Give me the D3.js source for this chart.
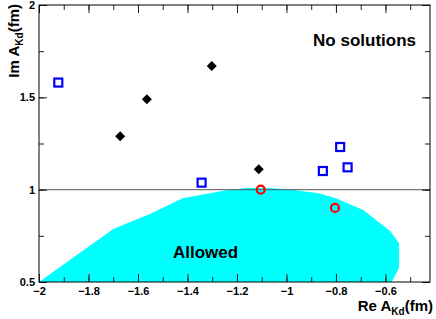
<!DOCTYPE html>
<html>
<head>
<meta charset="utf-8">
<script src="https://cdn.jsdelivr.net/npm/d3@7"></script>
<style>
    body { margin: 0; background: #fff; }
    svg text { font-family: 'Liberation Sans', Arial, sans-serif; font-weight: bold; fill: #000; }
</style>
</head>
<body>
<div id="chart"></div>
<script>
/* global d3 */
// allowed region boundary (Re, Im)
const allowedRe = [-2, -1.7, -1.55, -1.42, -1.25, -1.15, -1.05, -0.97, -0.87, -0.80, -0.69, -0.58, -0.545, -0.545, -0.575];
const allowedIm = [0.5, 0.787, 0.87, 0.953, 0.995, 1.011, 1.008, 0.998, 0.98, 0.953, 0.89, 0.775, 0.71, 0.576, 0.5];

// open blue squares
const squareRe = [-1.922, -1.343, -0.853, -0.783, -0.753];
const squareIm = [1.58, 1.038, 1.101, 1.231, 1.121];

// black diamonds
const diamondRe = [-1.672, -1.564, -1.302, -1.112];
const diamondIm = [1.289, 1.489, 1.67, 1.11];

// open red circles
const circleRe = [-1.104, -0.804];
const circleIm = [1.0, 0.901];

const xTicks = [-2, -1.8, -1.6, -1.4, -1.2, -1, -0.8, -0.6];
const yTicks = [0.5, 1, 1.5, 2];

const W = 436, H = 319;
const frame = { left: 39, right: 430, top: 5, bottom: 282 };

const x = d3.scaleLinear().domain([-2, -0.42]).range([frame.left, frame.right]);
const y = d3.scaleLinear().domain([0.5, 2]).range([frame.bottom, frame.top]);

const svg = d3.select('#chart').append('svg')
    .attr('width', W)
    .attr('height', H);

// allowed region
svg.append('path')
    .datum(d3.zip(allowedRe, allowedIm))
    .attr('d', d3.line().x(d => x(d[0])).y(d => y(d[1])))
    .style('fill', '#00ffff')
    .style('stroke', 'none');

// Im = 1 line
svg.append('line')
    .attr('x1', frame.left).attr('x2', frame.right)
    .attr('y1', y(1)).attr('y2', y(1))
    .style('stroke', '#555')
    .style('stroke-opacity', 0.8)
    .style('stroke-width', 1.2);

// axes, ticks inward on all four sides
const minorX = d3.range(-2, -0.42, 0.1);
const minorY = d3.range(0.5, 2.01, 0.25);

const axB = d3.axisBottom(x).tickValues(xTicks).tickSizeInner(-8).tickSizeOuter(0).tickPadding(5).tickFormat(d3.format('~g'));
const axT = d3.axisTop(x).tickValues(xTicks).tickSizeInner(-8).tickSizeOuter(0).tickFormat('');
const axL = d3.axisLeft(y).tickValues(yTicks).tickSizeInner(-8).tickSizeOuter(0).tickPadding(4).tickFormat(d3.format('~g'));
const axR = d3.axisRight(y).tickValues(yTicks).tickSizeInner(-8).tickSizeOuter(0).tickFormat('');

const mB = d3.axisBottom(x).tickValues(minorX).tickSize(-5).tickFormat('');
const mT = d3.axisTop(x).tickValues(minorX).tickSize(-5).tickFormat('');
const mL = d3.axisLeft(y).tickValues(minorY).tickSize(-5).tickFormat('');
const mR = d3.axisRight(y).tickValues(minorY).tickSize(-5).tickFormat('');

const axes = svg.append('g').attr('class', 'axes');
[[mB, frame.bottom, 'y'], [mT, frame.top, 'y'], [axB, frame.bottom, 'y'], [axT, frame.top, 'y'],
 [mL, frame.left, 'x'], [mR, frame.right, 'x'], [axL, frame.left, 'x'], [axR, frame.right, 'x']]
    .forEach(([ax, pos, dir]) => {
        const g = axes.append('g')
            .attr('transform', dir === 'y' ? `translate(0, ${pos})` : `translate(${pos}, 0)`)
            .call(ax);
        g.select('.domain').remove();
        g.selectAll('line').style('stroke', '#222').style('stroke-width', 1);
        g.selectAll('text').style('font-size', '11px');
    });

axes.selectAll('text').attr('font-family', null);

// frame
svg.append('rect')
    .attr('x', frame.left).attr('y', frame.top)
    .attr('width', frame.right - frame.left).attr('height', frame.bottom - frame.top)
    .style('fill', 'none')
    .style('stroke', '#000')
    .style('stroke-width', 1);

// markers
const pts = svg.append('g').attr('class', 'points');

pts.selectAll('.sq').data(d3.zip(squareRe, squareIm)).enter()
    .append('rect').attr('class', 'sq')
    .attr('x', d => x(d[0]) - 4).attr('y', d => y(d[1]) - 4)
    .attr('width', 8).attr('height', 8)
    .style('fill', 'none').style('stroke', '#0000ff').style('stroke-width', 2.2);

pts.selectAll('.dm').data(d3.zip(diamondRe, diamondIm)).enter()
    .append('path').attr('class', 'dm')
    .attr('transform', d => `translate(${x(d[0])}, ${y(d[1])})`)
    .attr('d', 'M0,-5L5,0L0,5L-5,0Z')
    .style('fill', '#000');

pts.selectAll('.ci').data(d3.zip(circleRe, circleIm)).enter()
    .append('circle').attr('class', 'ci')
    .attr('cx', d => x(d[0])).attr('cy', d => y(d[1]))
    .attr('r', 4)
    .style('fill', 'none').style('stroke', '#ff0000').style('stroke-width', 2.2);

// labels
svg.append('text')
    .attr('x', 416).attr('y', 46)
    .style('text-anchor', 'end')
    .style('font-size', '17px')
    .text('No solutions');

svg.append('text')
    .attr('x', 173).attr('y', 258)
    .style('font-size', '17px')
    .text('Allowed');

// axis titles
const xTitle = svg.append('text')
    .attr('x', 433).attr('y', 311)
    .style('text-anchor', 'end')
    .style('font-size', '15px');
xTitle.append('tspan').text('Re A');
xTitle.append('tspan').attr('dy', 4).style('font-size', '10px').text('Kd');
xTitle.append('tspan').attr('dy', -4).text('(fm)');

const yTitle = svg.append('text')
    .attr('transform', 'translate(19, 4) rotate(-90)')
    .style('text-anchor', 'end')
    .style('font-size', '15px');
yTitle.append('tspan').text('Im A');
yTitle.append('tspan').attr('dy', 4).style('font-size', '10px').text('Kd');
yTitle.append('tspan').attr('dy', -4).text('(fm)');
</script>
</body>
</html>
